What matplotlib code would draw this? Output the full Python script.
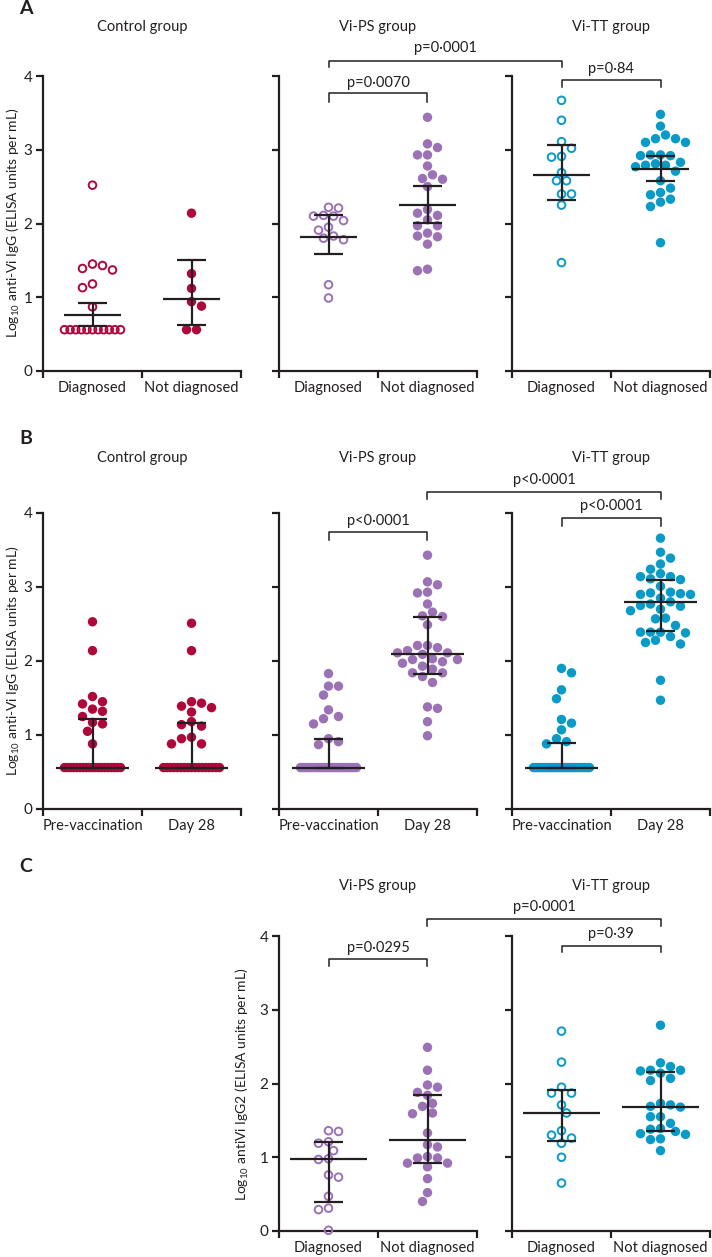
import numpy as np
import matplotlib
matplotlib.use("Agg")
import matplotlib.pyplot as plt
from matplotlib.lines import Line2D

plt.rcParams['font.family'] = ['Lato', 'DejaVu Sans']
plt.rcParams['mathtext.fontset'] = 'custom'
plt.rcParams['mathtext.rm'] = 'Lato'
plt.rcParams['mathtext.it'] = 'Lato'

INK = '#231F20'
RED = '#B0073B'
PURPLE = '#9B72B5'
CYAN = '#089BC8'

# ---------------- data ----------------
# Panel A: anti-Vi IgG, diagnosed vs not diagnosed (log10)
a_ctrl_diag = [2.52, 1.45, 1.39, 1.37, 1.43, 1.13, 1.18, 0.87,
               0.56, 0.56, 0.56, 0.56, 0.56, 0.56, 0.56, 0.56, 0.56, 0.56, 0.56]
a_ctrl_nodiag = [2.14, 1.32, 1.12, 0.94, 0.88, 0.56, 0.56]
a_ps_diag = [2.22, 2.21, 2.11, 2.10, 2.10, 2.04, 1.95, 1.91, 1.83, 1.78, 1.80, 1.17, 0.99]
a_ps_nodiag = [3.44, 3.08, 3.03, 2.93, 2.93, 2.78, 2.61, 2.60, 2.66, 2.50, 2.19, 2.11,
               2.14, 2.05, 1.97, 1.97, 1.82, 1.87, 1.83, 1.72, 1.36, 1.38]
a_tt_diag = [3.67, 3.40, 3.11, 3.02, 2.91, 2.90, 2.69, 2.58, 2.58, 2.40, 2.40, 2.25, 1.47]
a_tt_nodiag = [3.48, 3.32, 3.20, 3.15, 3.10, 3.10, 3.15, 2.93, 2.92, 2.93, 2.92, 2.81, 2.77,
               2.79, 2.79, 2.83, 2.71, 2.58, 2.48, 2.39, 2.42, 2.29, 2.33, 2.23, 1.74]
# centre, lower, upper of the summary bars
a_stats = {
    'ctrl': [(0.755, 0.61, 0.92), (0.98, 0.63, 1.51)],
    'ps': [(1.82, 1.58, 2.11), (2.25, 2.01, 2.51)],
    'tt': [(2.66, 2.32, 3.06), (2.74, 2.57, 2.92)],
}

# Panel B: anti-Vi IgG, pre-vaccination vs day 28 (log10)
b_ctrl_pre = [2.53, 2.14, 1.52, 1.42, 1.45, 1.35, 1.32, 1.25, 1.15, 1.17, 1.05, 0.88,
              0.56, 0.56, 0.56, 0.56, 0.56, 0.56, 0.56, 0.56, 0.56, 0.56,
              0.56, 0.56, 0.56, 0.56, 0.56, 0.56, 0.56, 0.56, 0.56]
b_ctrl_d28 = [2.51, 2.14, 1.45, 1.39, 1.37, 1.43, 1.31, 1.18, 1.12, 1.14, 0.97, 0.88, 0.88, 0.95,
              0.56, 0.56, 0.56, 0.56, 0.56, 0.56, 0.56, 0.56, 0.56, 0.56,
              0.56, 0.56, 0.56, 0.56, 0.56, 0.56, 0.56]
b_ps_pre = [1.83, 1.66, 1.66, 1.54, 1.34, 1.25, 1.22, 1.15, 0.91, 0.87, 0.95,
            0.56, 0.56, 0.56, 0.56, 0.56, 0.56, 0.56, 0.56, 0.56, 0.56, 0.56, 0.56,
            0.56, 0.56, 0.56, 0.56, 0.56, 0.56, 0.56, 0.56, 0.56, 0.56, 0.56, 0.56]
b_ps_d28 = [3.43, 3.07, 3.03, 2.93, 2.92, 2.77, 2.66, 2.60, 2.61, 2.49, 2.21, 2.18, 2.21, 2.11,
            2.14, 2.11, 2.09, 2.03, 2.02, 1.84, 1.89, 1.97, 1.99, 1.84, 1.93, 1.79, 1.71, 2.02,
            1.38, 1.36, 1.18, 0.99]
b_tt_pre = [1.90, 1.84, 1.61, 1.49, 1.21, 1.16, 1.07, 0.95, 0.91, 0.88,
            0.56, 0.56, 0.56, 0.56, 0.56, 0.56, 0.56, 0.56, 0.56, 0.56, 0.56, 0.56, 0.56, 0.56,
            0.56, 0.56, 0.56, 0.56, 0.56, 0.56, 0.56, 0.56, 0.56, 0.56, 0.56, 0.56, 0.56, 0.56]
b_tt_d28 = [3.66, 3.47, 3.39, 3.31, 3.24, 3.18, 3.14, 3.14, 3.11, 3.10, 3.01, 2.92, 2.90, 2.90,
            2.91, 2.93, 2.85, 2.77, 2.74, 2.75, 2.80, 2.68, 2.70, 2.57, 2.58, 2.48, 2.38, 2.39,
            2.39, 2.39, 2.28, 2.23, 2.25, 2.33, 1.74, 1.47]
b_stats = {
    'ctrl': [(0.56, 0.56, 1.21), (0.56, 0.56, 1.16)],
    'ps': [(0.56, 0.56, 0.95), (2.09, 1.82, 2.60)],
    'tt': [(0.56, 0.56, 0.89), (2.80, 2.40, 3.09)],
}

# Panel C: anti-Vi IgG2, diagnosed vs not diagnosed (log10)
c_ps_diag = [1.35, 1.36, 1.19, 1.21, 1.09, 0.98, 0.97, 0.73, 0.76, 0.47, 0.31, 0.29, 0.01]
c_ps_nodiag = [2.49, 2.18, 1.98, 1.95, 1.88, 1.84, 1.69, 1.73, 1.59, 1.60, 1.33, 1.17, 1.14,
               1.01, 0.99, 0.99, 0.92, 0.92, 0.87, 0.71, 0.52, 0.40]
c_tt_diag = [2.71, 2.29, 1.95, 1.87, 1.87, 1.71, 1.60, 1.36, 1.30, 1.26, 1.19, 1.00, 0.65]
c_tt_nodiag = [2.79, 2.28, 2.18, 2.17, 2.14, 2.18, 2.23, 2.07, 2.04, 1.71, 1.68, 1.69, 1.73,
               1.55, 1.55, 1.46, 1.38, 1.32, 1.31, 1.35, 1.39, 1.25, 1.24, 1.09]
c_stats = {
    'ps': [(0.97, 0.40, 1.21), (1.24, 0.92, 1.84)],
    'tt': [(1.60, 1.22, 1.91), (1.68, 1.36, 2.16)],
}

labels_a = ['Diagnosed', 'Not diagnosed']
labels_b = ['Pre-vaccination', 'Day 28']
group_titles = ['Control group', 'Vi-PS group', 'Vi-TT group']
p_a = ['p=0·0070', 'p=0·84', 'p=0·0001']
p_b = ['p<0·0001', 'p<0·0001', 'p<0·0001']
p_c = ['p=0·0295', 'p=0·39', 'p=0·0001']
ylabel_ab = r'Log$_{10}$ anti-Vi IgG (ELISA units per mL)'
ylabel_c = r'Log$_{10}$ antiVi IgG2 (ELISA units per mL)'

# ---------------- layout ----------------
W, H = 712, 1257
fig = plt.figure(figsize=(W / 100, H / 100), dpi=100)
col_left = [43, 279, 512]
col_w = 198
rows = {'A': (76, 371), 'B': (513, 809), 'C': (936, 1231)}
PX_X = col_w / 2.0
PX_Y = 295 / 4.0


def make_ax(col, row, ticklabels, show_y):
    top, bot = rows[row]
    ax = fig.add_axes([col_left[col] / W, 1 - bot / H, col_w / W, (bot - top) / H])
    ax.set_xlim(0, 2)
    ax.set_ylim(0, 4)
    for s in ['top', 'right']:
        ax.spines[s].set_visible(False)
    for s in ['left', 'bottom']:
        ax.spines[s].set_linewidth(1.6)
        ax.spines[s].set_color(INK)
    ax.set_xticks([0, 1, 2])
    ax.set_xticklabels([])
    ax.set_xticks([0.5, 1.5], minor=True)
    ax.set_xticklabels(ticklabels, minor=True, fontsize=10.5, color=INK)
    ax.tick_params(axis='x', which='major', length=5, width=1.6, color=INK, direction='out')
    ax.tick_params(axis='x', which='minor', length=0, pad=7)
    ax.set_yticks([0, 1, 2, 3, 4])
    ax.tick_params(axis='y', length=5, width=1.6, color=INK, pad=2.5, labelsize=11,
                   labelcolor=INK)
    if not show_y:
        ax.set_yticklabels([])
    return ax


def swarm_offsets(values, d=9.0, step=5.0, wmax=28.0):
    vals = np.asarray(values, dtype=float)
    n = len(vals)
    offs = np.zeros(n)
    placed = []
    vmin = vals.min()
    floor_idx = [i for i in range(n) if vals[i] == vmin]
    if len(floor_idx) >= 2:
        m = len(floor_idx)
        spacing = min(10.0, 2 * wmax / (m - 1))
        for j, i in enumerate(floor_idx):
            offs[i] = (j - (m - 1) / 2) * spacing
            placed.append((offs[i], vals[i] * PX_Y))
    else:
        floor_idx = []
    others = [i for i in np.argsort(-vals, kind='stable') if i not in floor_idx]
    for i in others:
        y = vals[i] * PX_Y
        pos = sum(1 for p in placed if p[0] > 0.1)
        neg = sum(1 for p in placed if p[0] < -0.1)
        first = 1 if pos <= neg else -1
        cands = [0.0]
        for k in range(1, 12):
            cands += [first * k * step, -first * k * step]
        chosen = 0.0
        for c in cands:
            if all((c - px) ** 2 + (y - py) ** 2 >= d ** 2 for px, py in placed):
                chosen = c
                break
        offs[i] = chosen
        placed.append((chosen, y))
    return offs / PX_X


def draw_group(ax, values, xc, color, hollow):
    off = swarm_offsets(values)
    x = xc + off
    if hollow:
        ax.scatter(x, values, s=30, facecolors='none', edgecolors=color, linewidths=1.4,
                   zorder=3, clip_on=False)
    else:
        ax.scatter(x, values, s=46, facecolors=color, edgecolors='none', zorder=3, clip_on=False)


def draw_stat(ax, xc, st, half):
    c, lo, hi = st
    kw = dict(color=INK, lw=1.6, zorder=5, solid_capstyle='butt', clip_on=False)
    ax.plot([xc - half, xc + half], [c, c], **kw)
    ax.plot([xc, xc], [lo, hi], **kw)
    ax.plot([xc - 0.15, xc + 0.15], [lo, lo], **kw)
    ax.plot([xc - 0.15, xc + 0.15], [hi, hi], **kw)


def to_fig(ax, x, y):
    return fig.transFigure.inverted().transform(ax.transData.transform((x, y)))


def bracket(ax1, x1, ax2, x2, y, ytick, ytext, text):
    p1 = to_fig(ax1, x1, ytick)
    p2 = to_fig(ax1, x1, y)
    p3 = to_fig(ax2, x2, y)
    p4 = to_fig(ax2, x2, ytick)
    xs = [p1[0], p2[0], p3[0], p4[0]]
    ys = [p1[1], p2[1], p3[1], p4[1]]
    fig.add_artist(Line2D(xs, ys, transform=fig.transFigure, color=INK, lw=1.1))
    pt = to_fig(ax1, x1, ytext)
    fig.text((p2[0] + p3[0]) / 2, pt[1], text, ha='center', va='center', fontsize=10.5,
             color=INK)


def fig_text_px(x, y, s, **kw):
    fig.text(x / W, 1 - y / H, s, **kw)


# ---------------- Panel A ----------------
colors = {'ctrl': RED, 'ps': PURPLE, 'tt': CYAN}
a_data = {'ctrl': (a_ctrl_diag, a_ctrl_nodiag), 'ps': (a_ps_diag, a_ps_nodiag),
          'tt': (a_tt_diag, a_tt_nodiag)}
axA = {}
for ci, key in enumerate(['ctrl', 'ps', 'tt']):
    ax = make_ax(ci, 'A', labels_a, ci == 0)
    d1, d2 = a_data[key]
    draw_group(ax, d1, 0.5, colors[key], True)
    draw_group(ax, d2, 1.5, colors[key], False)
    for xc, st in zip([0.5, 1.5], a_stats[key]):
        draw_stat(ax, xc, st, 0.29)
    axA[key] = ax

bracket(axA['ps'], 0.5, axA['ps'], 1.5, 3.765, 3.65, 3.90, p_a[0])
bracket(axA['tt'], 0.5, axA['tt'], 1.5, 3.95, 3.85, 4.10, p_a[1])
bracket(axA['ps'], 0.5, axA['tt'], 0.5, 4.21, 4.12, 4.375, p_a[2])

# ---------------- Panel B ----------------
b_data = {'ctrl': (b_ctrl_pre, b_ctrl_d28), 'ps': (b_ps_pre, b_ps_d28),
          'tt': (b_tt_pre, b_tt_d28)}
axB = {}
for ci, key in enumerate(['ctrl', 'ps', 'tt']):
    ax = make_ax(ci, 'B', labels_b, ci == 0)
    d1, d2 = b_data[key]
    draw_group(ax, d1, 0.5, colors[key], False)
    draw_group(ax, d2, 1.5, colors[key], False)
    for xc, st in zip([0.5, 1.5], b_stats[key]):
        draw_stat(ax, xc, st, 0.37)
    axB[key] = ax

bracket(axB['ps'], 0.5, axB['ps'], 1.5, 3.74, 3.63, 3.89, p_b[0])
bracket(axB['tt'], 0.5, axB['tt'], 1.5, 3.93, 3.83, 4.09, p_b[1])
bracket(axB['ps'], 1.5, axB['tt'], 1.5, 4.28, 4.19, 4.45, p_b[2])

# ---------------- Panel C ----------------
c_data = {'ps': (c_ps_diag, c_ps_nodiag), 'tt': (c_tt_diag, c_tt_nodiag)}
axC = {}
for ci, key in zip([1, 2], ['ps', 'tt']):
    ax = make_ax(ci, 'C', labels_a, ci == 1)
    d1, d2 = c_data[key]
    draw_group(ax, d1, 0.5, colors[key], True)
    draw_group(ax, d2, 1.5, colors[key], False)
    for xc, st in zip([0.5, 1.5], c_stats[key]):
        draw_stat(ax, xc, st, 0.39)
    axC[key] = ax

bracket(axC['ps'], 0.5, axC['ps'], 1.5, 3.69, 3.59, 3.84, p_c[0])
bracket(axC['tt'], 0.5, axC['tt'], 1.5, 3.87, 3.78, 4.03, p_c[1])
bracket(axC['ps'], 1.5, axC['tt'], 1.5, 4.23, 4.13, 4.39, p_c[2])

# ---------------- titles, labels ----------------
centres = [c + col_w / 2 for c in col_left]
for ci, t in enumerate(group_titles):
    fig_text_px(centres[ci], 27, t, ha='center', va='center', fontsize=10.5, color=INK)
    fig_text_px(centres[ci], 458, t, ha='center', va='center', fontsize=10.5, color=INK)
for ci in [1, 2]:
    fig_text_px(centres[ci], 886, group_titles[ci], ha='center', va='center', fontsize=10.5,
                color=INK)

for letter, y in [('A', 8), ('B', 439), ('C', 867)]:
    fig_text_px(26, y, letter, ha='center', va='center', fontsize=14, fontweight='bold',
                color=INK)

fig_text_px(13, 223, ylabel_ab, rotation=90, ha='center', va='center', fontsize=10, color=INK)
fig_text_px(13, 661, ylabel_ab, rotation=90, ha='center', va='center', fontsize=10, color=INK)
fig_text_px(242, 1084, ylabel_c, rotation=90, ha='center', va='center', fontsize=10, color=INK)

fig.savefig('out.png', dpi=100, facecolor='white')
